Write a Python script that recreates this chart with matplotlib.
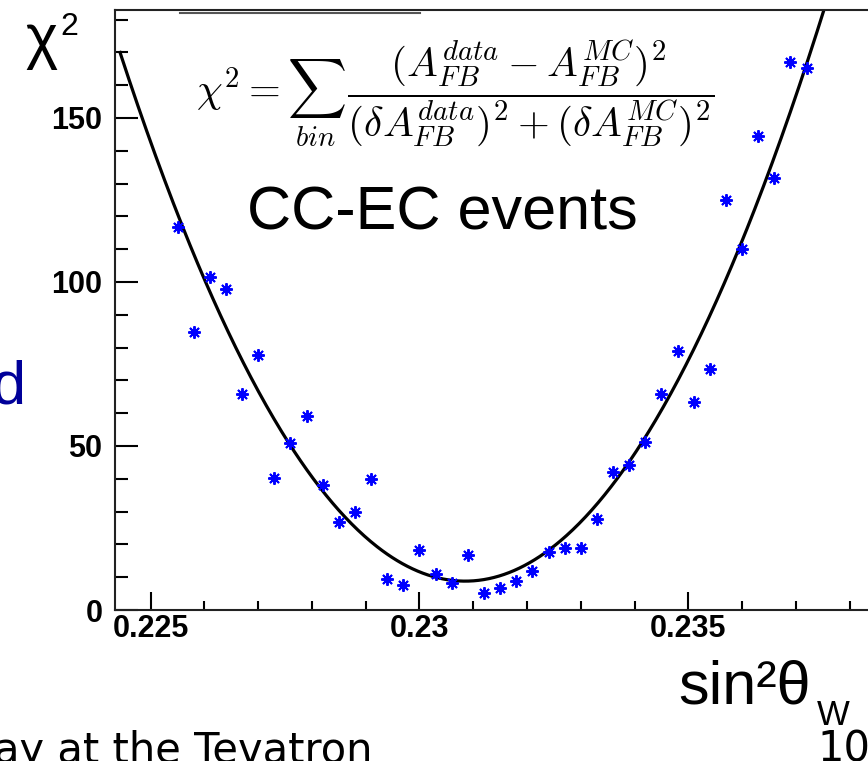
#!/usr/bin/env python3

import numpy as np
import matplotlib
matplotlib.use("Agg")
from matplotlib import pyplot as plt
from matplotlib.lines import Line2D
from matplotlib.ticker import MultipleLocator, FixedLocator

# * Data

# sin^2(theta_W) template points and their chi^2 against the data
SIN2W = [0.2255, 0.2258, 0.2261, 0.2264, 0.2267, 0.2270, 0.2273, 0.2276,
         0.2279, 0.2282, 0.2285, 0.2288, 0.2291, 0.2294, 0.2297, 0.2300,
         0.2303, 0.2306, 0.2309, 0.2312, 0.2315, 0.2318, 0.2321, 0.2324,
         0.2327, 0.2330, 0.2333, 0.2336, 0.2339, 0.2342, 0.2345, 0.2348,
         0.2351, 0.2354, 0.2357, 0.2360, 0.2363, 0.2366, 0.2369, 0.2372]
CHI2 = [116.9, 84.8, 101.6, 97.8, 65.9, 77.7, 40.1, 51.0,
        59.1, 38.1, 26.9, 29.8, 39.8, 9.5, 7.6, 18.3,
        11.0, 8.1, 16.8, 5.1, 6.6, 8.8, 12.0, 17.8,
        18.8, 18.8, 27.7, 42.2, 44.2, 51.3, 65.8, 78.8,
        63.3, 73.4, 125.0, 110.0, 144.5, 131.6, 166.9, 165.2]

# Parabola fit: chi2 = FIT_CHI2_MIN + FIT_CURV * (x - FIT_X_MIN)^2
FIT_X_MIN = 0.23085
FIT_CHI2_MIN = 8.8
FIT_CURV = 3.91e6
FIT_RANGE = (0.22443, 0.2386)

XTICKS = [0.225, 0.23, 0.235]
XTICK_LABELS = ["0.225", "0.23", "0.235"]
YTICKS = [0, 50, 100, 150]
YTICK_LABELS = ["0", "50", "100", "150"]

# * Layout (pixels)

W, H = 868, 761
AX_LEFT, AX_RIGHT, AX_TOP, AX_BOTTOM = 115, 880, 10, 610
XLIM = (0.224336, 0.238566)
YLIM = (0, 182.9)

SANS = ["Liberation Sans", "DejaVu Sans"]
TICK_FONT = ["Liberation Sans Narrow", "Liberation Sans", "DejaVu Sans"]


def px(x, y):
    return x / W, 1 - y / H


fig = plt.figure(figsize=(W / 100, H / 100), dpi=100)
fig.patch.set_facecolor("white")

ax = fig.add_axes([AX_LEFT / W, 1 - AX_BOTTOM / H,
                   (AX_RIGHT - AX_LEFT) / W, (AX_BOTTOM - AX_TOP) / H])
ax.set_xlim(*XLIM)
ax.set_ylim(*YLIM)

# fit curve
xf = np.linspace(FIT_RANGE[0], FIT_RANGE[1], 600)
ax.plot(xf, FIT_CHI2_MIN + FIT_CURV * (xf - FIT_X_MIN) ** 2,
        color="black", lw=2.3, zorder=2)

# scan points
ax.plot(SIN2W, CHI2, ls="none", marker=(8, 2, 0), ms=9, mew=1.4,
        color="#0000ff", zorder=3)

# axes styling
for side in ["left", "bottom", "top"]:
    ax.spines[side].set_linewidth(1.5)
    ax.spines[side].set_color("#222222")
ax.spines["right"].set_visible(False)

ax.xaxis.set_major_locator(FixedLocator(XTICKS))
ax.xaxis.set_minor_locator(MultipleLocator(0.001))
ax.yaxis.set_major_locator(FixedLocator(YTICKS))
ax.yaxis.set_minor_locator(MultipleLocator(10))
ax.set_xticklabels(XTICK_LABELS)
ax.set_yticklabels(YTICK_LABELS)

ax.tick_params(axis="x", which="major", direction="in", length=13, width=1.5,
               pad=3, top=False)
ax.tick_params(axis="x", which="minor", direction="in", length=6.5, width=1.5,
               top=False)
ax.tick_params(axis="y", which="major", direction="in", length=16.5, width=1.5,
               pad=9, right=False)
ax.tick_params(axis="y", which="minor", direction="in", length=9, width=1.5,
               right=False)
for lbl in ax.get_xticklabels() + ax.get_yticklabels():
    lbl.set_family(TICK_FONT)
    lbl.set_fontweight("bold")
    lbl.set_fontsize(22)

# formula
plt.rcParams["mathtext.fontset"] = "cm"
fig.text(*px(455, 94),
         r"$\chi^2 = \sum_{bin}\,\dfrac{(A_{FB}^{data} - A_{FB}^{MC})^2}"
         r"{(\delta A_{FB}^{data})^2 + (\delta A_{FB}^{MC})^2}$",
         fontsize=29.5, ha="center", va="center", color="black")

# slide rule above the plot
fig.add_artist(Line2D([180 / W, 420 / W], [1 - 12.5 / H, 1 - 12.5 / H],
                      color="#555555", lw=1.5))

# axis titles and slide text
fig.text(*px(25, 57), "χ", family=SANS, fontsize=44, va="baseline")
fig.text(*px(60, 35), "2", family=SANS, fontsize=23, va="baseline")
fig.text(*px(247, 230), "CC-EC events", family=SANS, fontsize=44,
         va="baseline")
fig.text(*px(678, 703), "sin²θ", family=SANS, fontsize=44, va="baseline")
fig.text(*px(817, 725), "W", family=SANS, fontsize=25, va="baseline")
fig.text(*px(26, 403), "d", family=SANS, fontsize=44, va="baseline",
         ha="right", color="#000099")
fig.text(*px(372, 763), "ay at the Tevatron", family="DejaVu Sans",
         fontsize=30, va="baseline", ha="right")
fig.text(*px(817, 762), "10", family="DejaVu Sans", fontsize=30,
         va="baseline")

fig.savefig("out.png", dpi=100)
